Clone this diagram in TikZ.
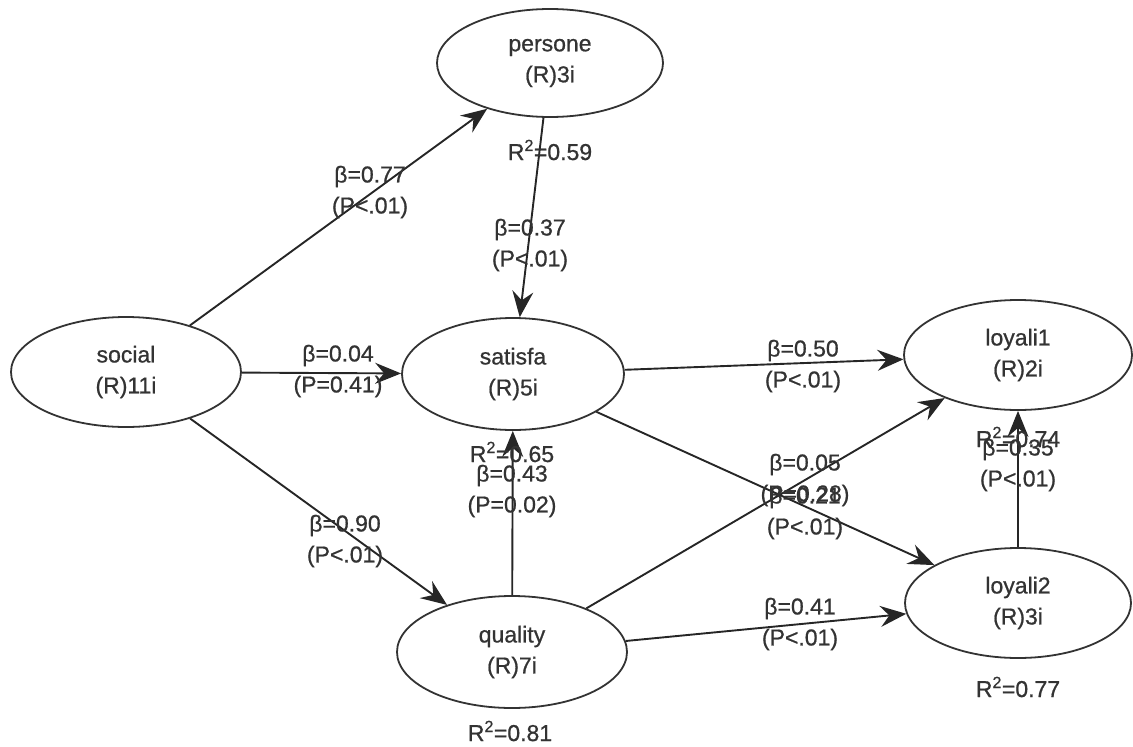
\documentclass[tikz,border=0pt]{standalone}
\usepackage{fontspec}
\setmainfont[FakeBold=0.8]{Liberation Sans}
\usetikzlibrary{shapes.geometric,arrows.meta}
\newcommand\lblfont{\fontsize{23}{31}\selectfont}
\begin{document}
\begin{tikzpicture}[x=1pt,y=-1pt,
  lv/.style={ellipse,draw=black!80,line width=1.8pt,inner sep=0pt,align=center,font=\lblfont,text=black!80},
  lab/.style={align=center,font=\lblfont,inner sep=0pt,text=black!80},
  arr/.style={draw=black!85,line width=1.9pt,-{Stealth[length=26pt,width=21pt,inset=9pt]}}]
\useasboundingbox (0,0) rectangle (1133,747);
% latent variables
\node[lv,minimum width=230pt,minimum height=110pt] (social) at (126,372) {social\\(R)11i};
\node[lv,minimum width=226pt,minimum height=108pt] (persone) at (550,63) {persone\\(R)3i};
\node[lv,minimum width=222pt,minimum height=112pt] (satisfa) at (513,374) {satisfa\\(R)5i};
\node[lv,minimum width=230pt,minimum height=112pt] (quality) at (512,652) {quality\\(R)7i};
\node[lv,minimum width=228pt,minimum height=110pt] (loyali1) at (1018,355) {loyali1\\(R)2i};
\node[lv,minimum width=226pt,minimum height=110pt] (loyali2) at (1018,603) {loyali2\\(R)3i};
% paths
\draw[arr] (social) -- (persone);
\draw[arr] (persone) -- (satisfa);
\draw[arr] (social) -- (satisfa);
\draw[arr] (social) -- (quality);
\draw[arr] (quality) -- (satisfa);
\draw[arr] (satisfa) -- (loyali1);
\draw[arr] (satisfa) -- (loyali2);
\draw[arr] (quality) -- (loyali1);
\draw[arr] (quality) -- (loyali2);
\draw[arr] (loyali2) -- (loyali1);
% path labels
\node[lab] (lsp) at (370,192) {β=0.77\\(P<.01)};
\node[lab] (lps) at (530,245) {β=0.37\\(P<.01)};
\node[lab] (lss) at (338,371) {β=0.04\\(P=0.41)};
\node[lab] (lsq) at (345,541) {β=0.90\\(P<.01)};
\node[lab] (lqs) at (512,491) {β=0.43\\(P=0.02)};
\node[lab] (lsl1) at (803,366) {β=0.50\\(P<.01)};
\node[lab] (lql1) at (805,480) {β=0.05\\(P=0.28)};
\node[lab] (lsl2) at (805,513) {β=0.21\\(P<.01)};
\node[lab] (lql2) at (800,624) {β=0.41\\(P<.01)};
\node[lab] (ll) at (1018,465) {β=0.35\\(P<.01)};
% R squared
\node[lab] (rpersone) at (550,150) {R\textsuperscript{2}=0.59};
\node[lab] (rsatisfa) at (512,452) {R\textsuperscript{2}=0.65};
\node[lab] (rquality) at (510,731) {R\textsuperscript{2}=0.81};
\node[lab] (rloyali1) at (1018,437) {R\textsuperscript{2}=0.74};
\node[lab] (rloyali2) at (1018,687) {R\textsuperscript{2}=0.77};
\end{tikzpicture}
\end{document}
